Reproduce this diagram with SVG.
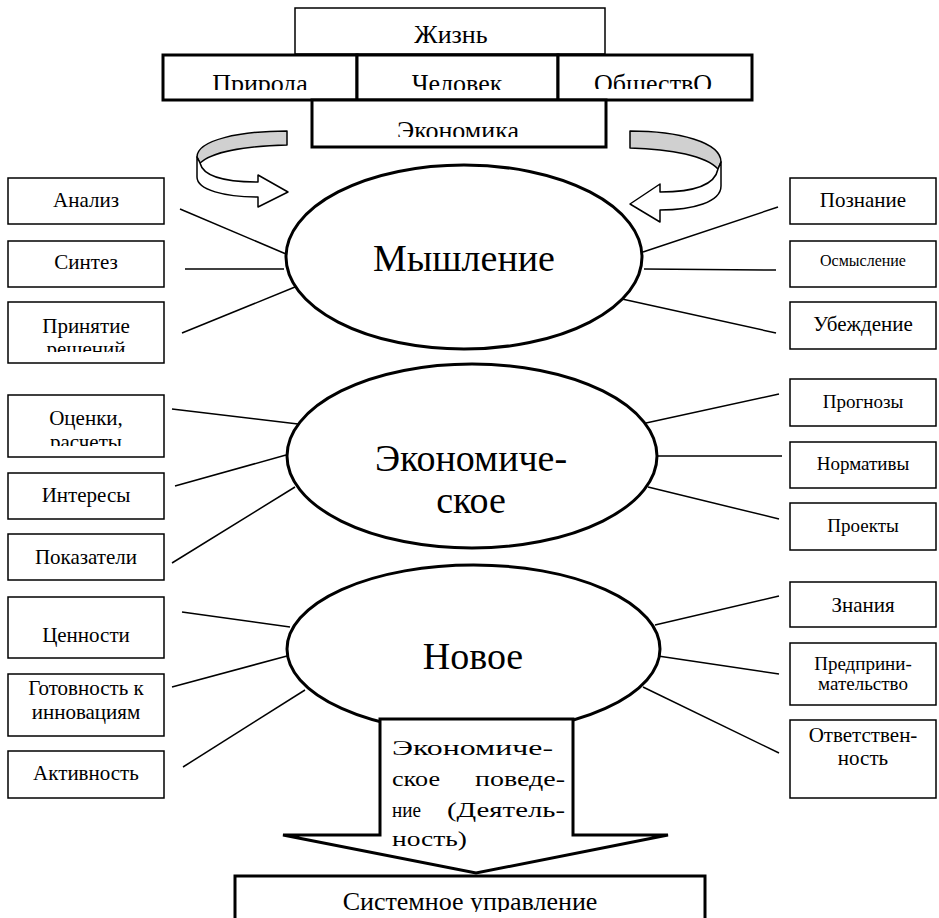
<svg xmlns="http://www.w3.org/2000/svg" width="939" height="918" viewBox="0 0 939 918" font-family="'Liberation Serif', 'DejaVu Serif', serif">
<style>
text{font-family:"Liberation Serif","DejaVu Serif",serif;fill:#000}
.box{fill:#fff;stroke:#000;stroke-width:1.5}
.tb{fill:#fff;stroke:#000;stroke-width:3}
.ell{fill:#fff;stroke:#000;stroke-width:3}
.t{font-size:21px;text-anchor:middle}
.ts{font-size:16px;text-anchor:middle}
.tm{font-size:19px;text-anchor:middle}
.top{font-size:26px;text-anchor:middle}
.big{font-size:38px;text-anchor:middle}
.ln{stroke:#000;stroke-width:1.5;fill:none}
.rib{stroke:#000;stroke-width:1.5;stroke-linejoin:round}
</style>
<defs>
<clipPath id="cPr"><rect x="163" y="55" width="194" height="35"/></clipPath>
<clipPath id="cCh"><rect x="357" y="55" width="201" height="35"/></clipPath>
<clipPath id="cOb"><rect x="558" y="55" width="194" height="34"/></clipPath>
<clipPath id="cEk"><rect x="312" y="100" width="294" height="37"/></clipPath>
<clipPath id="cPrin"><rect x="8" y="302" width="156" height="50"/></clipPath>
<clipPath id="cOc"><rect x="8" y="395" width="156" height="51"/></clipPath>
<clipPath id="cSys"><rect x="235" y="876" width="470" height="36"/></clipPath>
</defs>

<g id="zhizn"><rect class="box" x="295" y="8" width="310" height="46"/><text class="top" x="451" y="43">Жизнь</text></g>
<g id="priroda"><rect class="tb" x="163" y="55" width="194" height="45"/><text class="top" x="260" y="92" clip-path="url(#cPr)">Природа</text></g>
<g id="chelovek"><rect class="tb" x="357" y="55" width="201" height="45"/><text class="top" x="457" y="92" clip-path="url(#cCh)">Человек</text></g>
<g id="obshchestvo"><rect class="tb" x="558" y="55" width="194" height="45"/><text class="top" x="653" y="92" clip-path="url(#cOb)">ОбществО</text></g>
<g id="ekonomika"><rect class="tb" x="312" y="100" width="294" height="47"/><text class="top" x="458" y="138.5" clip-path="url(#cEk)">Экономика</text></g>

<g id="arrow-left">
<path class="rib" fill="#d0d0d0" d="M287,131 L287,145 C245,146 212,152 200,163 L197,157 C197,140 240,131 287,131 Z"/>
<path class="rib" fill="#fff" d="M197,157 L197,177 C197,190 225,197 258,197 L258,207 L288,192 L258,175 L258,182 C225,182 203,176 200,163 Z"/>
</g>
<g id="arrow-right">
<path class="rib" fill="#d0d0d0" d="M630,131 L630,148 C672,149 706,156 718,169 L721,162 C721,142 678,131 630,131 Z"/>
<path class="rib" fill="#fff" d="M721,162 L721,186 C721,202 693,210 660,210 L660,222 L630,204 L660,184 L660,192 C693,192 715,185 718,169 Z"/>
</g>

<g id="connectors">
<line class="ln" x1="180" y1="209" x2="286" y2="254"/>
<line class="ln" x1="185" y1="269" x2="284" y2="269"/>
<line class="ln" x1="182" y1="333" x2="295" y2="287"/>
<line class="ln" x1="778" y1="207" x2="643" y2="252"/>
<line class="ln" x1="776" y1="270" x2="644" y2="269"/>
<line class="ln" x1="776" y1="333" x2="622" y2="299"/>
<line class="ln" x1="172" y1="409" x2="298" y2="424"/>
<line class="ln" x1="175" y1="486" x2="286" y2="455"/>
<line class="ln" x1="172" y1="563" x2="295" y2="487"/>
<line class="ln" x1="779" y1="394" x2="646" y2="423"/>
<line class="ln" x1="782" y1="456" x2="657" y2="456"/>
<line class="ln" x1="779" y1="519" x2="648" y2="487"/>
<line class="ln" x1="182" y1="612" x2="290" y2="627"/>
<line class="ln" x1="172" y1="687" x2="287" y2="656"/>
<line class="ln" x1="183" y1="767" x2="305" y2="690"/>
<line class="ln" x1="779" y1="596" x2="655" y2="625"/>
<line class="ln" x1="779" y1="674" x2="658" y2="656"/>
<line class="ln" x1="779" y1="753" x2="643" y2="687"/>
</g>

<g id="myshlenie"><ellipse class="ell" cx="464" cy="257" rx="178" ry="92"/><text class="big" x="464" y="271">Мышление</text></g>
<g id="ekonomicheskoe"><ellipse class="ell" cx="472" cy="456" rx="185" ry="92"/><text class="big" x="471" y="471">Экономиче-</text><text class="big" x="471" y="513">ское</text></g>
<g id="novoe"><ellipse class="ell" cx="473.5" cy="649" rx="186.5" ry="84"/><text class="big" x="473" y="669">Новое</text></g>

<g id="analiz"><rect class="box" x="8" y="178" width="156" height="46"/><text class="t" x="86" y="207">Анализ</text></g>
<g id="sintez"><rect class="box" x="8" y="241" width="156" height="46"/><text class="t" x="86" y="269">Синтез</text></g>
<g id="prinyatie"><rect class="box" x="8" y="302" width="156" height="61"/><g clip-path="url(#cPrin)"><text class="t" x="86" y="333">Принятие</text><text class="t" x="86" y="356">решений</text></g></g>
<g id="ocenki"><rect class="box" x="8" y="395" width="156" height="62"/><g clip-path="url(#cOc)"><text class="t" x="86" y="425">Оценки,</text><text class="t" x="86" y="449">расчеты</text></g></g>
<g id="interesy"><rect class="box" x="8" y="473" width="156" height="46"/><text class="t" x="86" y="502">Интересы</text></g>
<g id="pokazateli"><rect class="box" x="8" y="534" width="156" height="46"/><text class="t" x="86" y="564">Показатели</text></g>
<g id="cennosti"><rect class="box" x="8" y="597" width="156" height="61"/><text class="t" x="86" y="642">Ценности</text></g>
<g id="gotovnost"><rect class="box" x="8" y="674" width="156" height="62"/><text class="t" x="86" y="695">Готовность к</text><text class="t" x="86" y="719">инновациям</text></g>
<g id="aktivnost"><rect class="box" x="8" y="751" width="156" height="47"/><text class="t" x="86" y="780">Активность</text></g>

<g id="poznanie"><rect class="box" x="790" y="178" width="146" height="46"/><text class="t" x="863" y="207">Познание</text></g>
<g id="osmyslenie"><rect class="box" x="790" y="241" width="146" height="46"/><text class="ts" x="863" y="266">Осмысление</text></g>
<g id="ubezhdenie"><rect class="box" x="790" y="302" width="146" height="47"/><text class="t" x="863" y="331">Убеждение</text></g>
<g id="prognozy"><rect class="box" x="790" y="379" width="146" height="47"/><text class="tm" x="863" y="408">Прогнозы</text></g>
<g id="normativy"><rect class="box" x="790" y="442" width="146" height="46"/><text class="tm" x="863" y="470">Нормативы</text></g>
<g id="proekty"><rect class="box" x="790" y="503" width="146" height="47"/><text class="tm" x="863" y="532">Проекты</text></g>
<g id="znaniya"><rect class="box" x="790" y="582" width="146" height="45"/><text class="t" x="863" y="612">Знания</text></g>
<g id="predprinimatelstvo"><rect class="box" x="790" y="643" width="146" height="62"/><text class="tm" x="863" y="670">Предприни-</text><text class="tm" x="863" y="690">мательство</text></g>
<g id="otvetstvennost"><rect class="box" x="790" y="720" width="146" height="78"/><text class="t" x="863" y="742">Ответствен-</text><text class="t" x="863" y="765">ность</text></g>

<g id="povedenie">
<path fill="#fff" stroke="#000" stroke-width="3" stroke-linejoin="miter" d="M380,719 L573,719 L573,835 L668,835 L476,873 L283,835 L380,835 Z"/>
<g font-size="22px">
<text x="392" y="755" textLength="161" lengthAdjust="spacingAndGlyphs">Экономиче-</text>
<text x="392" y="786" textLength="48" lengthAdjust="spacingAndGlyphs">ское</text>
<text x="475" y="786" textLength="90" lengthAdjust="spacingAndGlyphs">поведе-</text>
<text x="392" y="817" textLength="29" lengthAdjust="spacingAndGlyphs">ние</text>
<text x="447" y="817" textLength="118" lengthAdjust="spacingAndGlyphs">(Деятель-</text>
<text x="392" y="846" textLength="75" lengthAdjust="spacingAndGlyphs">ность)</text>
</g>
</g>

<g id="sistemnoe"><rect class="tb" x="235" y="876" width="470" height="60"/><text x="470" y="910" font-size="26px" text-anchor="middle" clip-path="url(#cSys)">Системное управление</text></g>
</svg>
